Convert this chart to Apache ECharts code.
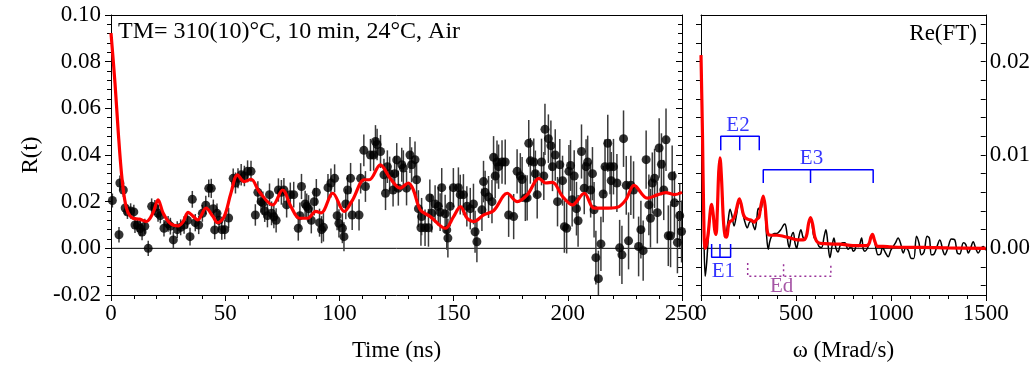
<!DOCTYPE html>
<html><head><meta charset="utf-8">
<script src="https://cdn.jsdelivr.net/npm/echarts@6/dist/echarts.min.js"></script>
<style>html,body{margin:0;padding:0;background:#fff}#c{width:1033px;height:371px}</style>
</head><body><div id="c"></div>
<script>
const FONT = '"Liberation Serif", "Times New Roman", serif';

// R(t) measured points: [time ns, R(t), error]
const points = [
[0.6,0.0205,0.0030],[3.5,0.0058,0.0033],[3.9,0.0280,0.0032],[5.4,0.0250,0.0030],[6.2,0.0173,0.0032],
[7.2,0.0156,0.0030],[8.6,0.0160,0.0033],[10.0,0.0156,0.0031],[10.5,0.0100,0.0034],[11.6,0.0100,0.0030],
[12.8,0.0085,0.0033],[13.6,0.0070,0.0035],[14.8,0.0095,0.0032],[16.3,0.0000,0.0033],[17.8,0.0180,0.0034],
[19.2,0.0175,0.0032],[20.6,0.0150,0.0036],[21.6,0.0140,0.0033],[23.2,0.0086,0.0035],[25.0,0.0105,0.0034],
[26.0,0.0095,0.0036],[27.3,0.0036,0.0035],[29.0,0.0080,0.0036],[30.5,0.0090,0.0034],[32.0,0.0100,0.0037],
[33.5,0.0120,0.0035],[34.6,0.0050,0.0038],[35.6,0.0210,0.0036],[36.9,0.0110,0.0037],[38.4,0.0100,0.0039],
[40.0,0.0150,0.0036],[41.5,0.0185,0.0040],[42.8,0.0257,0.0038],[43.9,0.0257,0.0041],[44.8,0.0170,0.0039],
[45.4,0.0079,0.0040],[46.4,0.0150,0.0042],[47.3,0.0120,0.0040],[48.5,0.0080,0.0043],[49.8,0.0080,0.0041],
[51.5,0.0130,0.0044],[53.5,0.0300,0.0042],[54.5,0.0280,0.0045],[55.6,0.0300,0.0043],[57.0,0.0315,0.0046],
[58.4,0.0310,0.0044],[59.8,0.0330,0.0047],[61.3,0.0330,0.0045],[63.2,0.0143,0.0046],[64.3,0.0240,0.0048],
[65.7,0.0200,0.0046],[66.5,0.0195,0.0049],[67.3,0.0160,0.0047],[68.5,0.0140,0.0050],[69.4,0.0230,0.0048],
[70.3,0.0150,0.0051],[71.3,0.0135,0.0049],[72.3,0.0120,0.0052],[73.3,0.0250,0.0050],[74.6,0.0240,0.0053],
[75.7,0.0250,0.0051],[76.9,0.0186,0.0054],[78.5,0.0230,0.0052],[80.0,0.0230,0.0055],[82.0,0.0086,0.0053],
[82.7,0.0140,0.0056],[83.4,0.0265,0.0054],[85.0,0.0190,0.0057],[85.7,0.0180,0.0055],[86.5,0.0170,0.0058],
[87.7,0.0120,0.0056],[89.0,0.0200,0.0059],[89.9,0.0240,0.0057],[91.3,0.0110,0.0060],[92.2,0.0080,0.0058],
[93.0,0.0090,0.0061],[95.0,0.0260,0.0059],[96.3,0.0280,0.0062],[97.9,0.0300,0.0060],[99.0,0.0140,0.0063],
[99.8,0.0107,0.0061],[101.3,0.0086,0.0064],[102.0,0.0050,0.0062],[102.8,0.0190,0.0065],[103.6,0.0250,0.0063],
[104.9,0.0300,0.0066],[105.6,0.0143,0.0064],[108.6,0.0143,0.0067],[109.3,0.0300,0.0065],[110.7,0.0420,0.0068],
[111.4,0.0265,0.0066],[113.6,0.0400,0.0069],[115.0,0.0400,0.0067],[115.8,0.0458,0.0070],[116.5,0.0445,0.0068],
[118.0,0.0415,0.0071],[119.5,0.0315,0.0069],[120.2,0.0236,0.0072],[121.0,0.0350,0.0070],[122.0,0.0320,0.0073],
[123.5,0.0250,0.0071],[124.2,0.0320,0.0074],[125.1,0.0379,0.0072],[125.8,0.0258,0.0075],[127.3,0.0358,0.0073],
[128.0,0.0344,0.0076],[129.4,0.0258,0.0074],[130.9,0.0400,0.0077],[131.6,0.0358,0.0075],[133.1,0.0380,0.0078],
[133.8,0.0294,0.0076],[134.6,0.0170,0.0079],[135.7,0.0088,0.0077],[136.0,0.0136,0.0080],[137.5,0.0088,0.0078],
[139.0,0.0088,0.0081],[139.6,0.0216,0.0079],[140.4,0.0150,0.0082],[141.9,0.0190,0.0080],[143.3,0.0180,0.0083],
[144.1,0.0155,0.0081],[144.8,0.0260,0.0084],[146.3,0.0148,0.0082],[147.0,0.0079,0.0085],[147.5,0.0044,0.0083],
[148.5,0.0180,0.0086],[149.9,0.0260,0.0084],[152.1,0.0260,0.0087],[152.9,0.0230,0.0085],[154.3,0.0230,0.0088],
[155.8,0.0180,0.0086],[157.3,0.0170,0.0089],[158.7,0.0190,0.0087],[159.4,0.0071,0.0090],[160.2,0.0028,0.0088],
[162.4,0.0165,0.0091],[163.1,0.0286,0.0089],[163.8,0.0240,0.0092],[165.3,0.0220,0.0090],[166.8,0.0200,0.0093],
[167.5,0.0390,0.0091],[168.2,0.0310,0.0094],[169.0,0.0370,0.0092],[169.7,0.0350,0.0095],[171.2,0.0370,0.0093],
[172.6,0.0370,0.0096],[174.1,0.0143,0.0094],[176.3,0.0136,0.0097],[177.8,0.0330,0.0095],[179.2,0.0310,0.0098],
[180.0,0.0295,0.0096],[181.4,0.0216,0.0099],[182.2,0.0216,0.0097],[182.9,0.0450,0.0100],[183.6,0.0375,0.0098],
[185.1,0.0370,0.0101],[185.8,0.0320,0.0099],[186.6,0.0230,0.0102],[188.5,0.0370,0.0100],[189.5,0.0310,0.0103],
[190.0,0.0510,0.0110],[191.5,0.0470,0.0104],[192.6,0.0440,0.0108],[193.3,0.0350,0.0105],[194.5,0.0400,0.0110],
[195.5,0.0200,0.0106],[196.5,0.0358,0.0111],[197.7,0.0290,0.0107],[198.5,0.0093,0.0112],[199.5,0.0086,0.0108],
[200.5,0.0330,0.0113],[201.2,0.0355,0.0109],[201.9,0.0208,0.0114],[202.8,0.0310,0.0110],[203.8,0.0170,0.0115],
[204.5,0.0118,0.0111],[206.0,0.0415,0.0116],[207.2,0.0258,0.0112],[208.0,0.0350,0.0117],[208.7,0.0370,0.0113],
[210.0,0.0250,0.0118],[210.8,0.0320,0.0114],[211.5,0.0165,0.0119],[212.3,-0.0040,0.0115],[213.4,-0.0130,0.0120],
[214.5,0.0019,0.0116],[215.5,0.0233,0.0121],[216.3,0.0350,0.0117],[217.5,0.0450,0.0122],[218.5,0.0350,0.0118],
[219.0,0.0290,0.0123],[220.0,0.0350,0.0119],[221.5,0.0280,0.0124],[222.7,0.0002,0.0120],[223.7,-0.0028,0.0125],
[224.4,0.0470,0.0121],[225.6,0.0270,0.0126],[226.6,0.0032,0.0122],[227.6,0.0270,0.0127],[228.8,0.0250,0.0123],
[231.0,0.0008,0.0128],[232.0,0.0080,0.0124],[233.0,-0.0010,0.0129],[234.3,0.0380,0.0125],[235.5,0.0186,0.0130],
[236.2,0.0129,0.0126],[237.0,0.0280,0.0131],[238.0,0.0300,0.0127],[239.2,0.0153,0.0132],[240.0,0.0430,0.0128],
[241.0,0.0360,0.0133],[242.0,0.0250,0.0129],[243.0,0.0465,0.0134],[244.0,0.0054,0.0130],[245.0,0.0054,0.0135],
[245.7,0.0310,0.0131],[246.7,0.0195,0.0136],[248.0,0.0025,0.0132],[249.0,0.0140,0.0137],[249.8,0.0072,0.0133]
];

// Fitted R(t) curve: [time ns, R]
const fitCurve = [
[0,0.0922],[1.75,0.0708],[3.2,0.0495],[4.6,0.032],[6.0,0.0208],[7.5,0.0152],[9.6,0.0129],[12.5,0.0125],
[15.5,0.0115],[18.4,0.0152],[20.6,0.0208],[22.8,0.0152],[25.8,0.0108],[29.4,0.0096],[31.6,0.0115],[33.8,0.0154],
[36,0.0137],[38,0.0122],[41.6,0.0172],[44.6,0.0137],[46.7,0.011],[49.6,0.0137],[52.5,0.0236],[55.4,0.0315],
[58.3,0.0286],[61.3,0.0296],[64.9,0.0243],[70.8,0.0186],[75.1,0.025],[78.8,0.0179],[82.5,0.0129],[86.1,0.0129],
[89.7,0.0158],[92,0.0152],[97.1,0.0236],[102.1,0.0158],[105.8,0.0208],[110.9,0.0294],[113.1,0.0294],[117.9,0.0358],
[122.2,0.0300],[126.6,0.0258],[130.2,0.028],[132.4,0.025],[135.4,0.0165],[139.8,0.0136],[146.4,0.0086],[150,0.0136],
[153,0.0179],[155.9,0.0129],[158.8,0.0115],[163.2,0.0143],[167.6,0.0162],[173.5,0.0236],[177.9,0.020],[182.3,0.023],
[187.4,0.030],[190.3,0.028],[193.3,0.0283],[197.7,0.0222],[202,0.0186],[207.2,0.0236],[211.5,0.0172],[215.9,0.0172],
[221.7,0.0176],[225.4,0.0208],[229,0.027],[234.8,0.0215],[239.2,0.0229],[242.9,0.0239],[246.6,0.023],[250,0.024]
];

// Re(FT) of data: [omega Mrad/s, value]
const ftData = [
[0,0.0207],[8,0.012],[15,0.002],[22,-0.003],[30,-0.0015],[40,0.0017],[50,0.0042],[56,0.0047],[65,0.0035],[75,0.0016],
[84,0.003],[92,0.008],[100,0.0095],[108,0.0075],[118,0.0035],[132,0.0017],[143,0.003],[153,0.0042],[163,0.0035],
[174,0.0024],[188,0.0037],[202,0.0052],[212,0.0045],[223,0.0035],[233,0.0027],[244,0.0022],[256,0.0028],[267,0.0029],
[276,0.0024],[284,0.002],[293,0.003],[302,0.0043],[312,0.004],[320,0.0045],[328,0.0055],[336,0.0045],[345,0.0015],
[354,-0.0001],[362,0.0007],[372,0.0013],[385,0.0016],[400,0.0016],[420,0.002],[435,0.0025],[442,0.0026],[450,0.002],
[458,0.0006],[465,0.0001],[475,0.0012],[486,0.0017],[495,0.0006],[504,0.0],[515,0.0012],[526,0.002],[537,0.0012],
[547,0.0009],[560,0.0018],[570,0.003],[577,0.0033],[585,0.0026],[595,0.0012],[609,0.0008],[622,0.0002],[635,0.0001],
[648,0.0012],[658,0.002],[668,0.0006],[679,-0.001],[690,0.0002],[700,0.0011],[711,0.0],[722,-0.0004],[733,0.0003],
[745,0.0006],[758,0.0006],[775,-0.0001],[792,0.0002],[801,-0.0003],[810,-0.0002],[819,0.0003],[830,0.0002],
[846,0.0011],[855,-0.0001],[863,-0.0003],[881,0.0002],[895,0.0012],[903,0.0015],[915,0.0007],[933,-0.0007],
[946,-0.0006],[956,0.0001],[970,-0.0004],[986,-0.0009],[1000,-0.0002],[1012,0.0002],[1025,0.0006],[1038,0.0011],
[1052,0.0005],[1065,-0.0005],[1078,0.0],[1091,-0.0002],[1109,-0.0011],[1121,-0.0011],[1135,0.0013],[1148,0.0006],
[1161,-0.0007],[1175,-0.0004],[1191,0.0013],[1203,0.0011],[1214,-0.0007],[1228,-0.0006],[1240,0.0],[1258,0.0009],
[1275,-0.0003],[1284,-0.0007],[1300,0.0],[1319,0.001],[1337,0.0009],[1350,-0.0005],[1363,-0.0006],[1382,0.0006],
[1395,0.0004],[1408,-0.0005],[1420,0.0],[1434,0.0007],[1447,0.0],[1460,-0.0005],[1475,0.0],[1486,0.0002],[1500,-0.0002]
];

// Re(FT) of fit: [omega, value]
const ftFit = [
[0,0.0207],[8,0.012],[14,0.004],[21,0.0],[30,0.0005],[40,0.002],[50,0.0042],[56,0.0047],[65,0.0035],[72,0.002],
[79,0.0015],[86,0.004],[93,0.008],[100,0.0097],[108,0.0075],[118,0.003],[127,0.0013],[135,0.0012],[145,0.0025],
[153,0.0029],[165,0.003],[178,0.0035],[190,0.0045],[202,0.0053],[212,0.0047],[222,0.0037],[232,0.0033],[250,0.0031],
[267,0.003],[280,0.0028],[293,0.0031],[305,0.0033],[315,0.0045],[328,0.0056],[338,0.0045],[347,0.0022],[354,0.0015],
[370,0.0014],[400,0.0014],[433,0.0013],[470,0.0011],[510,0.0009],[538,0.0009],[555,0.0013],[567,0.0027],[577,0.0033],
[588,0.0026],[600,0.0012],[617,0.0006],[650,0.0005],[700,0.00045],[731,0.00045],[800,0.0003],[871,0.0003],[885,0.0005],
[895,0.0012],[903,0.0015],[915,0.0008],[930,0.0002],[960,0.0002],[1000,0.00015],[1100,0.0001],[1170,0.0001],
[1300,0.00005],[1500,0.0]
];

// Frequency brackets: [left, middle, right] omega, and [bar level, tick end level]
const bracketE1 = {w:[56,100,156], y:[-0.00096,0.00047]};
const bracketE2 = {w:[104,204,307], y:[0.0120,0.0105]};
const bracketE3 = {w:[328,577,907], y:[0.00843,0.0070]};
const bracketEd = {w:[246,435,684], y:[-0.0030,-0.00157]};
const bracketLabels = [
  {name:'E1', w:118, v:-0.00246, color:'#0000ff'},
  {name:'E2', w:195, v:0.01315, color:'#0000ff'},
  {name:'E3', w:582, v:0.0096, color:'#0000ff'},
  {name:'Ed', w:425, v:-0.00407, color:'#8e2a8e'}
];

const ftTicks = [-0.004,-0.002,0,0.002,0.004,0.006,0.008,0.010,0.012,0.014,0.016,0.018,0.020,0.022,0.024];
const ftLabels = [0, 0.01, 0.02];

const chart = echarts.init(document.getElementById('c'), null, {renderer:'canvas'});
const labelStyle = {color:'#000', fontFamily:FONT, fontSize:23};

function bracketSeries(b, color, dashed){
  const ls = {color:color, width:1.5, type: dashed ? [2,3] : 'solid'};
  const base = {type:'line', xAxisIndex:2, yAxisIndex:3, symbol:'none', silent:true, lineStyle:ls, z:4, animation:false};
  return [
    Object.assign({}, base, {data:[[b.w[0],b.y[1]],[b.w[0],b.y[0]],[b.w[2],b.y[0]],[b.w[2],b.y[1]]]}),
    Object.assign({}, base, {data:[[b.w[1],b.y[0]],[b.w[1],b.y[1]]]})
  ];
}

const series = [
  {type:'line', xAxisIndex:0, yAxisIndex:0, data:[[0,0],[250,0]], symbol:'none', silent:true,
   lineStyle:{color:'#000', width:1}, z:1},
  {type:'custom', xAxisIndex:0, yAxisIndex:0, clip:true, silent:true, z:2,
   data: points.map(p => [p[0], p[1]-p[2], p[1]+p[2]]),
   renderItem: function(params, api){
     const x = api.value(0);
     const lo = api.coord([x, api.value(1)]);
     const hi = api.coord([x, api.value(2)]);
     return {type:'line', shape:{x1:lo[0], y1:lo[1], x2:hi[0], y2:hi[1]},
             style:{stroke:'#3a3a3a', lineWidth:1.5}};
   }},
  {type:'scatter', xAxisIndex:0, yAxisIndex:0, data: points.map(p => [p[0], p[1]]),
   symbol:'circle', symbolSize:9, itemStyle:{color:'#000'}, silent:true, z:3},
  {type:'line', xAxisIndex:0, yAxisIndex:0, data: fitCurve, symbol:'none', smooth:0.35,
   lineStyle:{color:'#ff0000', width:3.2}, silent:true, z:5},

  {type:'line', xAxisIndex:2, yAxisIndex:3, data:[[0,0],[1500,0]], symbol:'none', silent:true,
   lineStyle:{color:'#000', width:1}, z:1},
  {type:'line', xAxisIndex:2, yAxisIndex:3, data: ftData, symbol:'none', smooth:0.35,
   lineStyle:{color:'#000', width:1.5}, silent:true, z:2},
  {type:'line', xAxisIndex:2, yAxisIndex:3, data: ftFit, symbol:'none', smooth:0.35,
   lineStyle:{color:'#ff0000', width:3.2}, silent:true, z:3},
  ...bracketSeries(bracketE1, '#0000ff', false),
  ...bracketSeries(bracketE2, '#0000ff', false),
  ...bracketSeries(bracketE3, '#0000ff', false),
  ...bracketSeries(bracketEd, '#993399', true),
  {type:'scatter', xAxisIndex:2, yAxisIndex:3, symbolSize:0, silent:true, z:6,
   data: bracketLabels.map(l => ({value:[l.w, l.v], label:{show:true, formatter:l.name, position:'inside',
     color:l.color, fontFamily:FONT, fontSize:21}}))}
];

const option = {
  animation:false,
  backgroundColor:'#fff',
  grid:[
    {left:111, top:15, width:571, height:280, show:false},
    {left:701, top:15, width:285, height:280, show:false}
  ],
  xAxis:[
    {gridIndex:0, type:'value', min:0, max:250, interval:50, position:'bottom',
     axisLine:{show:true, onZero:false, lineStyle:{color:'#000', width:1}},
     axisTick:{show:true, inside:false, length:6, lineStyle:{color:'#000'}},
     minorTick:{show:true, splitNumber:5, length:4, lineStyle:{color:'#000'}},
     splitLine:{show:false},
     axisLabel:Object.assign({margin:7, formatter:v => String(v)}, labelStyle),
     name:'Time (ns)', nameLocation:'middle', nameGap:44, nameTextStyle:labelStyle},
    {gridIndex:0, type:'value', min:0, max:250, position:'top',
     axisLine:{show:true, onZero:false, lineStyle:{color:'#000'}}, axisTick:{show:false},
     axisLabel:{show:false}, splitLine:{show:false}},
    {gridIndex:1, type:'value', min:0, max:1500, interval:500, position:'bottom',
     axisLine:{show:true, onZero:false, lineStyle:{color:'#000', width:1}},
     axisTick:{show:true, inside:false, length:6, lineStyle:{color:'#000'}},
     minorTick:{show:true, splitNumber:5, length:4, lineStyle:{color:'#000'}},
     splitLine:{show:false},
     axisLabel:Object.assign({margin:7, formatter:v => String(v)}, labelStyle),
     name:'ω (Mrad/s)', nameLocation:'middle', nameGap:44, nameTextStyle:labelStyle},
    {gridIndex:1, type:'value', min:0, max:1500, position:'top',
     axisLine:{show:true, onZero:false, lineStyle:{color:'#000'}}, axisTick:{show:false},
     axisLabel:{show:false}, splitLine:{show:false}}
  ],
  yAxis:[
    {gridIndex:0, type:'value', min:-0.02, max:0.10, interval:0.02, position:'left',
     axisLine:{show:true, onZero:false, lineStyle:{color:'#000'}},
     axisTick:{show:true, inside:false, length:6, lineStyle:{color:'#000'}},
     minorTick:{show:true, splitNumber:5, length:4, lineStyle:{color:'#000'}},
     splitLine:{show:false},
     axisLabel:Object.assign({margin:10, formatter:v => v.toFixed(2)}, labelStyle),
     name:'R(t)', nameLocation:'middle', nameGap:68, nameRotate:90, nameTextStyle:labelStyle},
    {gridIndex:0, type:'value', min:-0.02, max:0.10, interval:0.02, position:'right',
     axisLine:{show:true, onZero:false, lineStyle:{color:'#000'}},
     axisTick:{show:true, inside:true, length:6, lineStyle:{color:'#000'}},
     minorTick:{show:true, splitNumber:5, length:4, lineStyle:{color:'#000'}},
     splitLine:{show:false}, axisLabel:{show:false}},
    {gridIndex:1, type:'value', min:-0.005, max:0.025, position:'left',
     axisLine:{show:true, onZero:false, lineStyle:{color:'#000'}},
     axisTick:{show:true, inside:false, length:5, customValues:ftTicks, lineStyle:{color:'#000'}},
     splitLine:{show:false}, axisLabel:{show:false, customValues:ftLabels}},
    {gridIndex:1, type:'value', min:-0.005, max:0.025, position:'right',
     axisLine:{show:true, onZero:false, lineStyle:{color:'#000'}},
     axisTick:{show:true, inside:true, length:5, customValues:ftTicks, lineStyle:{color:'#000'}},
     splitLine:{show:false},
     axisLabel:Object.assign({margin:4, customValues:ftLabels, formatter:v => v.toFixed(2)}, labelStyle)}
  ],
  graphic:[
    {type:'text', left:118, top:20, style:{text:'TM= 310(10)°C, 10 min, 24°C, Air', fill:'#000', font:'24px ' + FONT}},
    {type:'text', right:1033-977, top:22, style:{text:'Re(FT)', fill:'#000', font:'23px ' + FONT}}
  ],
  series: series
};
chart.setOption(option);
</script>
</body></html>
